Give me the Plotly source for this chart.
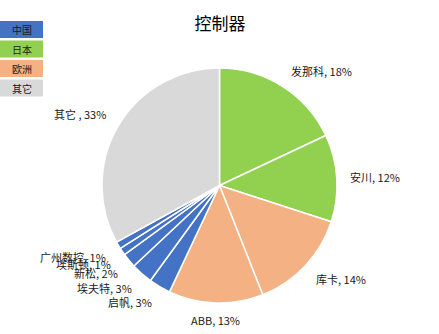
import math
import plotly.graph_objects as go

# ---- data ----
title = "控制器"
brands = ["发那科", "安川", "库卡", "ABB", "启帆", "埃夫特", "新松", "埃斯顿", "广州数控", "其它"]
shares = [18, 12, 14, 13, 3, 3, 2, 1, 1, 33]
regions = ["日本", "日本", "欧洲", "欧洲", "中国", "中国", "中国", "中国", "中国", "其它"]
legend_regions = ["中国", "日本", "欧洲", "其它"]
region_colors = {"中国": "#4472C4", "日本": "#92D050", "欧洲": "#F4B183", "其它": "#D9D9D9"}

# ---- layout constants ----
W, H = 439, 334
CX, CY, R = 219.5, 185.5, 117.5
FONT = "Noto Sans CJK SC, Microsoft YaHei, sans-serif"

def px(x):
    return x / W

def py(y):
    return 1 - y / H

fig = go.Figure()
fig.add_trace(go.Pie(
    labels=brands,
    values=shares,
    sort=False,
    direction="clockwise",
    rotation=0,
    textinfo="none",
    hoverinfo="label+percent",
    marker=dict(colors=[region_colors[r] for r in regions], line=dict(color="white", width=1.5)),
    domain=dict(x=[px(CX - R), px(CX + R)], y=[py(CY + R), py(CY - R)]),
    showlegend=False,
))

annotations = []
total = sum(shares)
cum = 0
for name, v in zip(brands, shares):
    mid = (cum + v / 2) / total * 2 * math.pi
    cum += v
    s, c = math.sin(mid), math.cos(mid)
    rr = R * 1.1
    x = CX + rr * s
    y = CY - rr * c
    xa = "left" if s > 0.1 else ("right" if s < -0.1 else "center")
    if abs(c) >= 0.2:
        y += -5.5 if c > 0 else 5.5
    sep = " , " if name == "其它" else ", "
    annotations.append(dict(
        x=px(x), y=py(y), xref="paper", yref="paper",
        text=f"{name}{sep}{round(v / total * 100)}%",
        showarrow=False, xanchor=xa, yanchor="middle",
        font=dict(family=FONT, size=11, color="#1a1a1a"),
    ))

# legend as coloured blocks with text
shapes = []
for i, reg in enumerate(legend_regions):
    y0 = 21 + i * 19.5
    y1 = y0 + 17
    shapes.append(dict(type="rect", xref="paper", yref="paper",
                       x0=px(0), x1=px(43), y0=py(y1), y1=py(y0),
                       fillcolor=region_colors[reg], line=dict(width=0), layer="below"))
    annotations.append(dict(
        x=px(22), y=py((y0 + y1) / 2), xref="paper", yref="paper",
        text=reg, showarrow=False, xanchor="center", yanchor="middle",
        font=dict(family=FONT, size=10, color="#1a1a1a"),
    ))

fig.update_layout(
    width=W, height=H,
    margin=dict(l=0, r=0, t=0, b=0),
    paper_bgcolor="white", plot_bgcolor="white",
    title=dict(text=title, x=px(220), y=py(24), xanchor="center", yanchor="middle",
               font=dict(family=FONT, size=17, color="#000000")),
    annotations=annotations,
    shapes=shapes,
)

fig.write_html("out.html")
